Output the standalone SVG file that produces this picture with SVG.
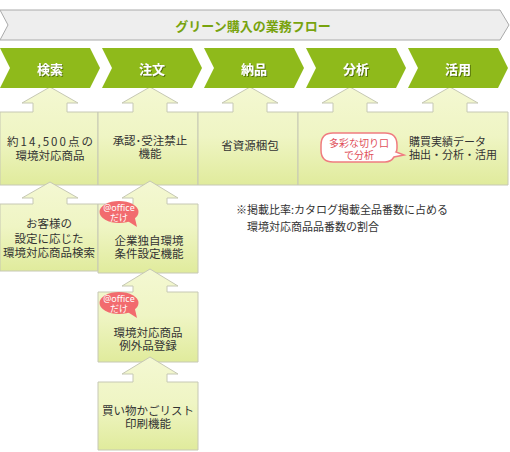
<svg xmlns="http://www.w3.org/2000/svg" width="510" height="452" viewBox="0 0 510 452">
<defs>
<linearGradient id="boxg" x1="0" y1="0" x2="0" y2="1">
<stop offset="0" stop-color="#f4f8d2"/>
<stop offset="0.5" stop-color="#eff5c4"/>
<stop offset="1" stop-color="#e0eb9c"/>
</linearGradient>
<filter id="sh" x="-20%" y="-20%" width="140%" height="140%">
<feDropShadow dx="1" dy="1" stdDeviation="0.6" flood-color="#3d5200" flood-opacity="0.7"/>
</filter>
</defs>
<style>
.box{fill:url(#boxg);stroke:#c6c8b4;stroke-width:1}
.chev{fill:#8fba1b}
.clab{font-family:"Noto Sans CJK JP","Noto Sans",sans-serif;font-size:13px;font-weight:bold;fill:#ffffff;text-anchor:middle;dominant-baseline:central}
.t{font-family:"Noto Sans CJK JP","Noto Sans",sans-serif;font-size:11.5px;fill:#333333;text-anchor:middle;dominant-baseline:central}
.tl{font-family:"Noto Sans CJK JP","Noto Sans",sans-serif;font-size:11px;fill:#333333;dominant-baseline:central}
.bub{fill:#f26b6e}
.bt{font-family:"Noto Sans","Noto Sans CJK JP",sans-serif;font-size:9px;fill:#ffffff;text-anchor:middle;dominant-baseline:central}
.pb{fill:#ffffff;stroke:#f07c80;stroke-width:1.5}
.pt{font-family:"Noto Sans CJK JP","Noto Sans",sans-serif;font-size:10px;fill:#e0505a;text-anchor:middle;dominant-baseline:central}
</style>

<g id="header">
<polygon points="0,10 500,10 509,25 500,40 0,40 8,25" fill="#eeeeee" stroke="#aaaaaa" stroke-width="1"/>
<text x="253" y="25" font-family="'Noto Sans CJK JP','Noto Sans',sans-serif" font-size="13" font-weight="bold" fill="#78a30e" text-anchor="middle" dominant-baseline="central">グリーン購入の業務フロー</text>
</g>

<g id="connectors">
<path class="box" d="M0,112 L33,112 L33,103 L22,103 L50,87 L78,103 L67,103 L67,112 L98,112 L98,185 L0,185 Z"/>
<path class="box" d="M98,112 L133,112 L133,103 L122,103 L150,87 L178,103 L167,103 L167,112 L198,112 L198,185 L98,185 Z"/>
<path class="box" d="M198,112 L233,112 L233,103 L222,103 L250,87 L278,103 L267,103 L267,112 L298,112 L298,185 L198,185 Z"/>
<path class="box" d="M298,112 L333,112 L333,103 L322,103 L350,87 L378,103 L367,103 L367,112 L433,112 L433,103 L422,103 L450,87 L478,103 L467,103 L467,112 L508,112 L508,185 L298,185 Z"/>
</g>

<g id="step-search">
<polygon class="chev" points="0,48 90,48 100,68 90,88 0,88 10,68"/>
<text class="clab" x="50" y="68" filter="url(#sh)">検索</text>
</g>
<g id="step-order">
<polygon class="chev" points="102,48 192,48 202,68 192,88 102,88 112,68"/>
<text class="clab" x="152" y="68" filter="url(#sh)">注文</text>
</g>
<g id="step-delivery">
<polygon class="chev" points="204,48 294,48 304,68 294,88 204,88 214,68"/>
<text class="clab" x="254" y="68" filter="url(#sh)">納品</text>
</g>
<g id="step-analysis">
<polygon class="chev" points="306,48 396,48 406,68 396,88 306,88 316,68"/>
<text class="clab" x="356" y="68" filter="url(#sh)">分析</text>
</g>
<g id="step-use">
<polygon class="chev" points="408,48 498,48 508,68 498,88 408,88 418,68"/>
<text class="clab" x="458" y="68" filter="url(#sh)">活用</text>
</g>

<g id="box-products">
<text class="t" font-size="12"><tspan x="50" y="141" textLength="86" lengthAdjust="spacing">約14,500点の</tspan><tspan x="50" y="155">環境対応商品</tspan></text>
</g>
<g id="box-approval">
<text class="t"><tspan x="150" y="140">承認･受注禁止</tspan><tspan x="150" y="153">機能</tspan></text>
</g>
<g id="box-packaging">
<text class="t" x="250" y="145">省資源梱包</text>
</g>
<g id="box-data">
<path class="pb" d="M333,133 L385,133 Q397,133 397,145 L397,148 Q397,151 396,152 L404,155 L394,157 Q391,162 385,162 L333,162 Q321,162 321,150 L321,145 Q321,133 333,133 Z"/>
<text class="pt"><tspan x="359" y="142">多彩な切り口</tspan><tspan x="359" y="154">で分析</tspan></text>
<text class="tl" font-size="11.5"><tspan x="409" y="141">購買実績データ</tspan><tspan x="409" y="154" font-size="11">抽出・分析・活用</tspan></text>
</g>

<g id="note">
<text class="tl"><tspan x="236" y="209">※掲載比率:カタログ掲載全品番数に占める</tspan><tspan x="247" y="226">環境対応商品品番数の割合</tspan></text>
</g>

<g id="box-customer-search">
<path class="box" d="M0,204 L33,204 L33,198 L22,198 L50,182 L78,198 L67,198 L67,204 L98,204 L98,271 L0,271 Z"/>
<text class="t" font-size="11"><tspan x="49" y="223">お客様の</tspan><tspan x="49" y="238">設定に応じた</tspan><tspan x="49" y="252">環境対応商品検索</tspan></text>
</g>

<g id="box-company-settings">
<path class="box" d="M98,204 L133,204 L133,198 L122,198 L150,181 L178,198 L167,198 L167,204 L198,204 L198,273 L98,273 Z"/>
<ellipse class="bub" cx="119" cy="212" rx="19.5" ry="11"/>
<polygon class="bub" points="126,220 137,227 134,214"/>
<text class="bt"><tspan x="119" y="207">@office</tspan><tspan x="119" y="216.5">だけ</tspan></text>
<text class="t"><tspan x="149" y="240">企業独自環境</tspan><tspan x="149" y="253">条件設定機能</tspan></text>
</g>

<g id="box-exception">
<path class="box" d="M98,292 L133,292 L133,286 L122,286 L150,269 L178,286 L167,286 L167,292 L198,292 L198,362 L98,362 Z"/>
<ellipse class="bub" cx="119" cy="303" rx="19.5" ry="11"/>
<polygon class="bub" points="126,311 137,318 134,305"/>
<text class="bt"><tspan x="119" y="298">@office</tspan><tspan x="119" y="307.5">だけ</tspan></text>
<text class="t"><tspan x="148" y="332">環境対応商品</tspan><tspan x="148" y="345">例外品登録</tspan></text>
</g>

<g id="box-cart-print">
<path class="box" d="M98,382 L133,382 L133,374 L122,374 L150,357 L178,374 L167,374 L167,382 L198,382 L198,450 L98,450 Z"/>
<text class="t"><tspan x="148" y="410">買い物かごリスト</tspan><tspan x="148" y="423">印刷機能</tspan></text>
</g>
</svg>
